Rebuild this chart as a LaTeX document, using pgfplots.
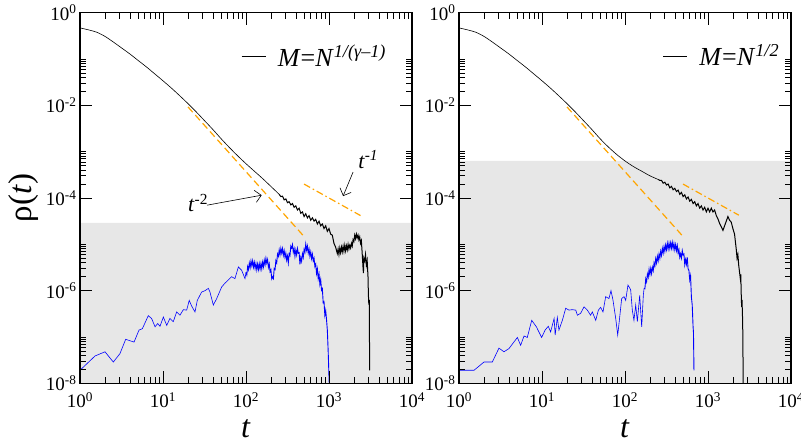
\documentclass[border=0pt]{standalone}
\usepackage{fontspec}
\setmainfont{Liberation Serif}
\usepackage{pgfplots}
\pgfplotsset{compat=1.18}
\usetikzlibrary{arrows.meta}
\definecolor{shade}{gray}{0.905}
\definecolor{dorange}{RGB}{255,165,0}
\definecolor{dblue}{RGB}{0,0,255}

\begin{document}
\begin{tikzpicture}
% ---------------- left panel ----------------
\begin{loglogaxis}[
    scale only axis, width=332pt, height=370.6pt,
    xmin=1, xmax=1e4, ymin=1e-8, ymax=1,
    axis on top,
    xtick={1,10,100,1000,10000},
    xticklabels={10\textsuperscript{0},10\textsuperscript{1},10\textsuperscript{2},10\textsuperscript{3},10\textsuperscript{4}},
    minor xtick={2,3,4,5,6,7,8,9,20,30,40,50,60,70,80,90,200,300,400,500,600,700,800,900,2000,3000,4000,5000,6000,7000,8000,9000},
    ytick={1e-8,1e-6,1e-4,1e-2,1},
    yticklabels={10\textsuperscript{-8},10\textsuperscript{-6},10\textsuperscript{-4},10\textsuperscript{-2},10\textsuperscript{0}},
    minor ytick={2e-8,3e-8,4e-8,5e-8,6e-8,7e-8,8e-8,9e-8,1e-7,2e-6,3e-6,4e-6,5e-6,6e-6,7e-6,8e-6,9e-6,1e-5,2e-4,3e-4,4e-4,5e-4,6e-4,7e-4,8e-4,9e-4,1e-3,2e-2,3e-2,4e-2,5e-2,6e-2,7e-2,8e-2,9e-2,1e-1},
    tick align=inside,
    major tick length=12pt, minor tick length=6.5pt,
    tick style={black, line width=0.8pt},
    axis line style={line width=1.2pt},
    tick label style={font=\fontsize{19}{19}\selectfont},
    xticklabel style={yshift=-6pt},
    xlabel={\textit{t}},
    xlabel style={font=\fontsize{32}{32}\selectfont, at={(axis description cs:0.5,-0.145)}, anchor=base},
    ylabel={ρ(\textit{t})},
    ylabel style={font=\fontsize{33}{33}\selectfont, at={(axis description cs:-0.169,0.5)}, anchor=center},
    legend style={draw=none, fill=none, font=\fontsize{26}{26}\selectfont, at={(axis description cs:0.476,0.883)}, anchor=west},
    legend cell align=left,
    legend image code/.code={\draw[black, line width=0.6pt] (0pt,0pt) -- (24pt,0pt);},
  ]
\addplot[draw=none, fill=shade, forget plot] coordinates {(1,1e-8) (1e4,1e-8) (1e4,2.9e-5) (1,2.9e-5) (1,1e-8)};
% black, smooth part
\addplot[black, line width=0.6pt, smooth] coordinates {
(1,0.470) (1.259,0.427) (1.585,0.380) (1.995,0.309) (2.512,0.234) (3.162,0.174) (3.981,0.129) (5.012,0.0933) (6.310,0.0676) (7.943,0.0479) (10,0.0339) (12.59,0.0237) (15.85,0.01622) (19.95,0.01096) (25.12,0.00724) (31.62,0.00468) (39.81,0.00302) (50.12,0.001905) (63.10,0.001230) (79.43,8.13e-4) (100,5.50e-4) (125.9,3.80e-4) (158.5,2.63e-4) (199.5,1.78e-4) (251.2,1.20e-4)};
\addlegendentry{\hspace{10pt}\textit{M}=\textit{N}\textsuperscript{\textit{1/(γ–1)}}}
% black, noisy tail
\addplot[black, line width=1.0pt, forget plot] coordinates {
(251.2,1.20e-4) (263.0,1.072e-4) (275.4,1.096e-4) (288.4,9.12e-5) (302.0,9.55e-5) (316.2,7.94e-5) (331.1,8.32e-5) (346.7,7.08e-5) (363.1,7.59e-5) (380.2,6.31e-5) (398.1,6.76e-5) (416.9,5.50e-5) (436.5,6.03e-5) (457.1,4.68e-5) (478.6,5.01e-5) (501.2,3.98e-5) (524.8,4.57e-5) (549.5,3.72e-5) (575.4,4.17e-5) (602.6,3.31e-5) (631.0,3.72e-5) (660.7,3.16e-5) (691.8,3.47e-5) (724.4,2.75e-5) (758.6,3.16e-5) (794.3,2.51e-5) (831.8,2.75e-5) (871.0,2.19e-5) (912.0,2.51e-5) (955.0,1.91e-5) (1000,2.19e-5) (1047,1.66e-5) (1096,1.58e-5) (1148,1.05e-5) (1202,8.71e-6) (1259,6.31e-6) (1288,7.94e-6) (1318,6.03e-6) (1349,8.32e-6) (1380,6.61e-6) (1413,8.71e-6) (1445,6.92e-6) (1479,9.12e-6) (1514,7.08e-6) (1549,9.55e-6) (1585,7.24e-6) (1622,9.33e-6) (1660,7.59e-6) (1698,1.00e-5) (1738,7.94e-6) (1778,9.55e-6) (1820,8.32e-6) (1862,1.05e-5) (1905,9.12e-6) (1950,1.26e-5) (1995,1.15e-5) (2042,1.58e-5) (2089,1.32e-5) (2138,1.66e-5) (2188,1.38e-5) (2239,1.58e-5) (2291,1.26e-5) (2344,1.45e-5) (2399,1.05e-5) (2455,1.20e-5) (2512,6.31e-6) (2570,3.16e-6) (2600,2.40e-6) (2630,5.01e-6) (2692,4.37e-6) (2754,6.03e-6) (2818,3.55e-6) (2884,4.47e-6) (2951,2.00e-6) (2985,7.94e-7) (3020,5.01e-7) (3055,6.31e-7) (3090,1.91e-8)};
% blue, early part
\addplot[dblue, line width=0.6pt, forget plot] coordinates {
(1,1.91e-8) (1.517,3.89e-8) (2.0,4.79e-8) (2.52,2.88e-8) (3.03,4.37e-8) (3.55,8.91e-8) (4.48,7.76e-8) (5.14,1.41e-7) (5.64,1.51e-7) (6.65,2.88e-7) (7.29,2.51e-7) (8.02,1.66e-7) (8.63,1.95e-7) (9.20,1.70e-7) (10.1,2.69e-7) (11.1,1.78e-7) (12.1,2.51e-7) (13.3,2.14e-7) (14.6,3.47e-7) (16.0,2.95e-7) (17.6,3.89e-7) (19.3,3.80e-7) (20.7,6.17e-7) (22.1,4.68e-7) (24.3,3.47e-7) (25.9,6.17e-7) (29.2,9.33e-7) (32.1,1.00e-6) (35.2,1.12e-6) (36.8,9.33e-7) (40.4,4.90e-7) (44.4,6.76e-7) (50.9,1.20e-6) (55.8,1.45e-6) (61.2,1.70e-6) (67.1,2.00e-6) (73.6,1.82e-6) (80.9,3.24e-6) (88.7,2.75e-6) (97.3,1.82e-6) (100,2.48e-6)};
% blue, noisy part
\addplot[dblue, line width=0.9pt, forget plot] coordinates {
(100,2.48e-6) (102.3,2.19e-6) (104.7,3.31e-6) (107.2,2.84e-6) (109.6,3.95e-6) (112.2,3.16e-6) (114.8,4.39e-6) (117.5,3.44e-6) (120.2,4.39e-6) (123.0,3.22e-6) (125.9,4.10e-6) (128.8,3.01e-6) (131.8,3.83e-6) (134.9,2.82e-6) (138.0,3.75e-6) (141.3,2.86e-6) (144.5,3.80e-6) (147.9,2.91e-6) (151.4,3.86e-6) (154.9,2.96e-6) (158.5,4.11e-6) (162.2,3.27e-6) (166.0,4.54e-6) (169.8,3.62e-6) (173.8,5.01e-6) (177.8,3.94e-6) (182.0,4.68e-6) (186.2,3.20e-6) (190.5,3.80e-6) (195.0,2.58e-6) (199.5,2.84e-6) (204.2,1.80e-6) (208.9,1.99e-6) (213.8,1.82e-6) (218.8,3.02e-6) (223.9,2.86e-6) (229.1,4.47e-6) (234.4,3.98e-6) (239.9,6.17e-6) (245.5,5.50e-6) (251.2,7.59e-6) (257.0,5.96e-6) (263.0,8.17e-6) (269.2,6.46e-6) (275.4,8.07e-6) (281.8,5.82e-6) (288.4,7.28e-6) (295.1,5.25e-6) (302.0,6.46e-6) (309.0,4.57e-6) (316.2,5.62e-6) (323.6,3.98e-6) (331.1,6.31e-6) (338.8,5.75e-6) (346.7,9.12e-6) (354.8,8.32e-6) (363.1,9.89e-6) (371.5,6.76e-6) (380.2,8.04e-6) (389.0,5.50e-6) (398.1,7.50e-6) (407.4,5.92e-6) (416.9,8.13e-6) (426.6,6.43e-6) (436.5,6.61e-6) (446.7,3.72e-6) (457.1,5.20e-6) (467.7,4.33e-6) (478.6,6.25e-6) (489.8,5.20e-6) (501.2,7.76e-6) (512.9,6.71e-6) (524.8,1.01e-5) (537.0,7.53e-6) (549.5,9.18e-6) (562.3,6.46e-6) (575.4,7.89e-6) (588.8,5.53e-6) (602.6,6.87e-6) (616.6,4.92e-6) (631.0,6.12e-6) (645.7,4.39e-6) (660.7,5.01e-6) (676.1,3.31e-6) (691.8,3.72e-6) (707.9,2.34e-6) (724.4,2.95e-6) (741.3,1.82e-6) (758.6,2.29e-6) (776.2,1.38e-6) (794.3,1.74e-6) (812.8,1.02e-6) (831.8,1.10e-6) (851.1,5.50e-7) (871.0,5.75e-7) (891.3,2.95e-7) (912.0,3.72e-7) (933.3,2.40e-7) (955.0,1.41e-7) (977.2,5.01e-8) (1000,1.38e-8) (1009,9.1e-9)};
% guides
\addplot[dorange, line width=1.2pt, dash pattern=on 7pt off 4pt, forget plot] coordinates {(20,9.25e-3) (500,1.48e-5)};
\addplot[dorange, line width=1.2pt, dash pattern=on 7pt off 3pt on 1.5pt off 3pt, forget plot] coordinates {(500,2.0e-4) (2400,4.17e-5)};
% annotations
\node[anchor=base west, inner sep=0pt, font=\fontsize{22}{22}\selectfont] at (axis cs:20,5e-5) {\textit{t}\textsuperscript{-2}};
\draw[-{Straight Barb[length=6pt]}, line width=0.6pt] (axis cs:33.9,7.0e-5) -- (axis cs:154.5,1.15e-4);
\node[anchor=base west, inner sep=0pt, font=\fontsize{22}{22}\selectfont] at (axis cs:2239,4.43e-4) {\textit{t}\textsuperscript{\textit{-1}}};
\draw[-{Straight Barb[length=6pt]}, line width=0.6pt] (axis cs:1950,3.63e-4) -- (axis cs:1479,1.10e-4);
\end{loglogaxis}

% ---------------- right panel ----------------
\begin{loglogaxis}[
    at={(379pt,0pt)},
    scale only axis, width=332pt, height=370.6pt,
    xmin=1, xmax=1e4, ymin=1e-8, ymax=1,
    axis on top,
    xtick={1,10,100,1000,10000},
    xticklabels={10\textsuperscript{0},10\textsuperscript{1},10\textsuperscript{2},10\textsuperscript{3},10\textsuperscript{4}},
    minor xtick={2,3,4,5,6,7,8,9,20,30,40,50,60,70,80,90,200,300,400,500,600,700,800,900,2000,3000,4000,5000,6000,7000,8000,9000},
    ytick={1e-8,1e-6,1e-4,1e-2,1},
    yticklabels={10\textsuperscript{-8},10\textsuperscript{-6},10\textsuperscript{-4},10\textsuperscript{-2},10\textsuperscript{0}},
    minor ytick={2e-8,3e-8,4e-8,5e-8,6e-8,7e-8,8e-8,9e-8,1e-7,2e-6,3e-6,4e-6,5e-6,6e-6,7e-6,8e-6,9e-6,1e-5,2e-4,3e-4,4e-4,5e-4,6e-4,7e-4,8e-4,9e-4,1e-3,2e-2,3e-2,4e-2,5e-2,6e-2,7e-2,8e-2,9e-2,1e-1},
    tick align=inside,
    major tick length=12pt, minor tick length=6.5pt,
    tick style={black, line width=0.8pt},
    axis line style={line width=1.2pt},
    tick label style={font=\fontsize{19}{19}\selectfont},
    xticklabel style={yshift=-6pt},
    xlabel={\textit{t}},
    xlabel style={font=\fontsize{32}{32}\selectfont, at={(axis description cs:0.5,-0.145)}, anchor=base},
    legend style={draw=none, fill=none, font=\fontsize{26}{26}\selectfont, at={(axis description cs:0.604,0.883)}, anchor=west},
    legend cell align=left,
    legend image code/.code={\draw[black, line width=0.6pt] (0pt,0pt) -- (24pt,0pt);},
  ]
\addplot[draw=none, fill=shade, forget plot] coordinates {(1,1e-8) (1e4,1e-8) (1e4,6.3e-4) (1,6.3e-4) (1,1e-8)};
\addplot[black, line width=0.6pt, smooth] coordinates {
(1,0.470) (1.259,0.427) (1.585,0.380) (1.995,0.309) (2.512,0.234) (3.162,0.174) (3.981,0.129) (5.012,0.0933) (6.310,0.0676) (7.943,0.0479) (10,0.0339) (12.59,0.0237) (15.85,0.01622) (19.95,0.01096) (25.12,0.00724) (31.62,0.00468) (39.81,0.00302) (50.12,0.001905) (63.10,0.00126) (79.43,8.71e-4) (100,6.31e-4) (125.9,4.79e-4) (158.5,3.80e-4) (199.5,3.02e-4) (251.2,2.51e-4)};
\addlegendentry{\hspace{10pt}\textit{M}=\textit{N}\textsuperscript{\textit{1/2}}}
\addplot[black, line width=1.0pt, forget plot] coordinates {
(251.2,2.51e-4) (263.0,2.40e-4) (275.4,2.40e-4) (288.4,2.09e-4) (302.0,2.19e-4) (316.2,1.91e-4) (331.1,2.00e-4) (346.7,1.66e-4) (363.1,1.78e-4) (380.2,1.51e-4) (398.1,1.62e-4) (416.9,1.38e-4) (436.5,1.48e-4) (457.1,1.20e-4) (478.6,1.32e-4) (501.2,1.07e-4) (524.8,1.17e-4) (549.5,9.55e-5) (575.4,1.05e-4) (602.6,8.51e-5) (631.0,9.33e-5) (660.7,7.59e-5) (691.8,8.32e-5) (724.4,6.76e-5) (758.6,7.59e-5) (794.3,6.03e-5) (831.8,6.76e-5) (871.0,5.50e-5) (912.0,6.31e-5) (955.0,5.01e-5) (1000,6.03e-5) (1047,5.01e-5) (1096,6.03e-5) (1148,5.01e-5) (1202,5.50e-5) (1259,4.17e-5) (1318,3.55e-5) (1380,2.82e-5) (1445,2.40e-5) (1514,2.00e-5) (1585,2.51e-5) (1660,3.16e-5) (1738,3.98e-5) (1820,3.31e-5) (1905,3.02e-5) (1995,2.19e-5) (2089,1.66e-5) (2188,7.94e-6) (2239,5.01e-6) (2291,6.03e-6) (2344,3.55e-6) (2399,2.51e-6) (2455,1.78e-6) (2483,2.24e-6) (2512,8.91e-7) (2541,4.47e-7) (2570,6.31e-7) (2618,2.00e-7) (2661,7.94e-9)};
\addplot[dblue, line width=0.6pt, forget plot] coordinates {
(1,1.91e-8) (1.517,1.91e-8) (2.0,2.88e-8) (2.52,2.88e-8) (3.03,5.75e-8) (3.48,4.79e-8) (4.0,5.62e-8) (5.05,9.77e-8) (5.53,6.61e-8) (6.07,1.05e-7) (6.65,9.77e-8) (7.52,2.29e-7) (8.55,1.66e-7) (9.91,9.77e-8) (10.9,1.41e-7) (11.9,1.70e-7) (12.7,1.29e-7) (14.0,2.51e-7) (14.4,1.10e-7) (15.3,2.63e-7) (16.0,1.41e-7) (17.6,2.29e-7) (19.3,4.17e-7) (21.1,3.80e-7) (23.2,3.89e-7) (25.5,3.80e-7) (26.7,2.95e-7) (29.2,3.24e-7) (32.1,4.47e-7) (35.2,3.80e-7) (38.5,2.95e-7) (40.4,3.47e-7) (44.4,2.29e-7) (47.8,3.80e-7) (50.9,4.37e-7) (54.3,3.47e-7) (58.5,7.41e-7) (64.1,6.76e-7) (67.8,1.00e-6) (71.6,6.31e-7) (77.3,2.51e-7) (81.7,1.10e-7) (84.7,1.95e-7) (91.2,6.76e-7) (97.3,7.41e-7) (101.9,6.17e-7) (108.6,1.32e-6) (117.0,1.05e-6) (122.5,3.80e-7) (128.2,2.29e-7) (134.6,4.90e-7) (140.9,2.14e-7) (150.3,7.94e-7) (158.9,1.66e-7) (166.3,7.94e-7) (169.8,1.12e-6)};
\addplot[dblue, line width=0.9pt, forget plot] coordinates {
(169.8,1.12e-6) (173.8,1.10e-6) (177.8,1.80e-6) (182.0,1.55e-6) (186.2,2.29e-6) (190.5,1.95e-6) (195.0,2.88e-6) (199.5,2.24e-6) (204.2,3.02e-6) (208.9,2.34e-6) (213.8,3.20e-6) (218.8,2.69e-6) (223.9,3.98e-6) (229.1,3.39e-6) (234.4,4.90e-6) (239.9,3.94e-6) (245.5,5.50e-6) (251.2,4.42e-6) (257.0,6.17e-6) (263.0,5.01e-6) (269.2,7.08e-6) (275.4,5.75e-6) (281.8,8.13e-6) (288.4,6.50e-6) (295.1,8.91e-6) (302.0,7.08e-6) (309.0,9.66e-6) (316.2,7.64e-6) (323.6,1.05e-5) (331.1,8.00e-6) (338.8,1.06e-5) (346.7,8.13e-6) (354.8,1.08e-5) (363.1,8.26e-6) (371.5,1.10e-5) (380.2,8.11e-6) (389.0,1.04e-5) (398.1,7.69e-6) (407.4,9.86e-6) (416.9,7.29e-6) (426.6,9.35e-6) (436.5,6.46e-6) (446.7,7.67e-6) (457.1,5.25e-6) (467.7,6.24e-6) (478.6,5.07e-6) (489.8,7.33e-6) (501.2,5.89e-6) (512.9,6.17e-6) (524.8,3.63e-6) (537.0,4.68e-6) (549.5,3.72e-6) (562.3,5.25e-6) (575.4,2.95e-6) (588.8,2.75e-6) (602.6,1.70e-6) (616.6,2.09e-6) (631.0,7.24e-7) (645.7,4.90e-7) (660.7,1.70e-7) (668.3,1.26e-7) (677.6,1.91e-8)};
\addplot[dorange, line width=1.2pt, dash pattern=on 7pt off 4pt, forget plot] coordinates {(20,9.25e-3) (500,1.48e-5)};
\addplot[dorange, line width=1.2pt, dash pattern=on 7pt off 3pt on 1.5pt off 3pt, forget plot] coordinates {(500,2.0e-4) (2350,4.26e-5)};
\end{loglogaxis}
\pgfresetboundingbox
\path[use as bounding box] (-80pt,-60.7pt) rectangle (721pt,383.3pt);
\end{tikzpicture}
\end{document}
